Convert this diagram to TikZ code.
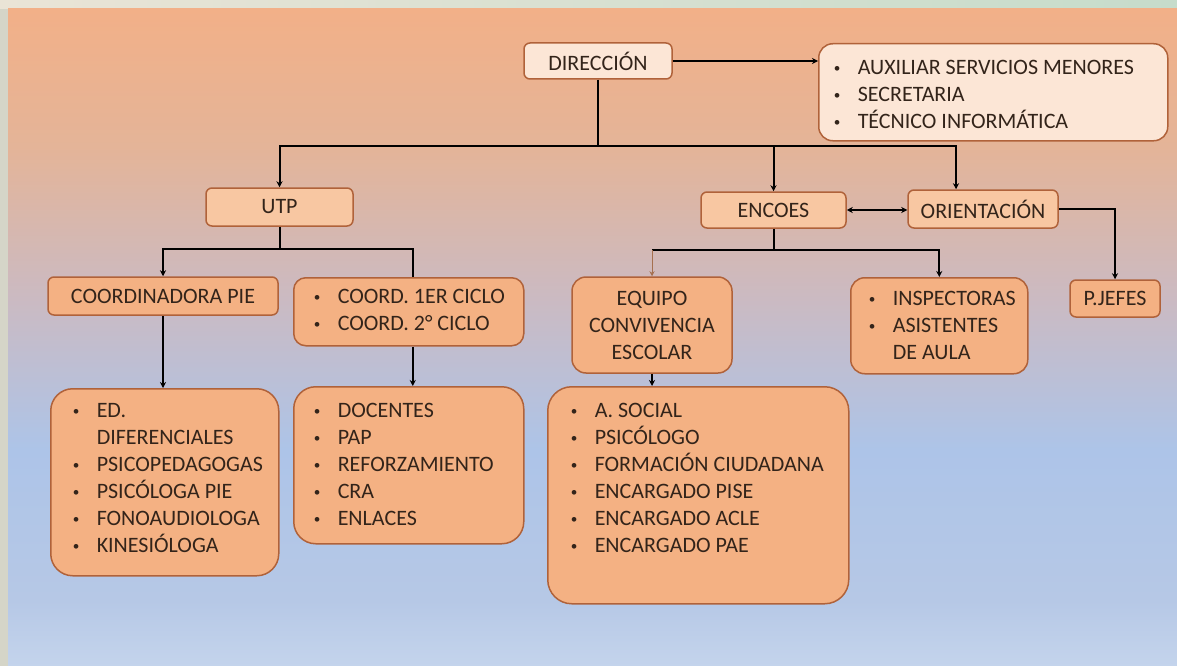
\documentclass[tikz,border=0pt]{standalone}
\usepackage{fontspec}
\setmainfont{Carlito}
\usetikzlibrary{arrows.meta}
\definecolor{frameside}{HTML}{D5D5C8}
\definecolor{frametopa}{HTML}{EAE4D6}
\definecolor{frametopb}{HTML}{C6DCCB}
\definecolor{paneltop}{HTML}{F2B088}
\definecolor{panelhigh}{HTML}{E4B498}
\definecolor{panelmid}{HTML}{CBBAC2}
\definecolor{panelblue}{HTML}{ADC4E8}
\definecolor{panellow}{HTML}{B6C8E6}
\definecolor{panelbot}{HTML}{C4D4EC}
\definecolor{boxline}{HTML}{B0623A}
\definecolor{boxpale}{HTML}{FCE6D6}
\definecolor{boxlight}{HTML}{F8C7A2}
\definecolor{boxfill}{HTML}{F4B183}
\definecolor{orgink}{HTML}{33241A}
\definecolor{linkbrown}{HTML}{A5704F}
% small list bullet
\newcommand{\dotmark}{\raisebox{2pt}{\scalebox{0.6}{\textbullet}}}
% bullet list set in a box of fixed size: width, height, left indent, rows
\newcommand{\orglist}[4]{\parbox[c][#2][t]{#1}{\hspace*{#3}%
  \begin{tabular}[t]{@{}p{24pt}@{}l@{}}#4\end{tabular}}}
\pgfdeclareverticalshading{panelfade}{100bp}{color(0bp)=(panelbot);
  color(25bp)=(panelbot); color(30bp)=(panellow); color(41.5bp)=(panelblue);
  color(53bp)=(panelmid); color(64.5bp)=(panelhigh); color(75bp)=(paneltop);
  color(100bp)=(paneltop)}

\begin{document}
\begin{tikzpicture}[
  x=1pt,
  y=-1pt,
  every node/.style={font=\fontsize{22}{27}\selectfont, text=orgink},
  topbox/.style={draw=boxline, line width=1.5pt, fill=boxpale,
                 rounded corners=6pt, inner sep=0pt},
  unitbox/.style={draw=boxline, line width=1.5pt, fill=boxlight,
                  rounded corners=6pt, inner sep=0pt},
  teambox/.style={draw=boxline, line width=1.5pt, fill=boxfill,
                  rounded corners=6pt, inner sep=0pt},
  listbox/.style={draw=boxline, line width=1.5pt, fill=boxfill,
                  rounded corners=18pt, anchor=north west, inner xsep=0pt},
  link/.style={black, line width=2pt},
  branch/.style={link, -{Stealth[length=6pt, width=6pt]}},
  twoway/.style={link, {Stealth[length=6pt, width=6pt]}-{Stealth[length=6pt, width=6pt]}},
  faint/.style={linkbrown, line width=1pt, -{Stealth[length=5pt, width=5pt]}}
]
  % ---- frame and background ----
  \useasboundingbox (0,0) rectangle (1177,666);
  \fill[frameside] (0,0) rectangle (1177,666);
  \shade[left color=frametopa, right color=frametopb] (0,0) rectangle (1177,9);
  \shade[shading=panelfade] (8,9) rectangle (1177,666);

  % ---- top level ----
  \node[topbox, minimum width=148pt, minimum height=36pt] (dir) at (598,61)
    {DIRECCIÓN};
  \node[listbox, fill=boxpale, rounded corners=14pt, inner ysep=11.5pt] (staff)
    at (818,43) {\orglist{349pt}{74pt}{15pt}{%
      \dotmark & AUXILIAR SERVICIOS MENORES\\
      \dotmark & SECRETARIA\\
      \dotmark & TÉCNICO INFORMÁTICA}};

  % ---- second level ----
  \node[unitbox, minimum width=147pt, minimum height=38pt] (utp) at (279.5,207)
    {UTP};
  \node[unitbox, minimum width=145pt, minimum height=36pt] (encoes) at (773.5,210)
    {ENCOES};
  \node[unitbox, minimum width=150pt, minimum height=38pt] (orient) at (983,209)
    {ORIENTACIÓN};

  % ---- third level ----
  \node[teambox, minimum width=230pt, minimum height=38pt] (pie) at (163,296)
    {COORDINADORA PIE};
  \node[listbox, rounded corners=12pt, inner ysep=7.2pt] (cycles) at (293,277)
    {\orglist{230pt}{53.6pt}{20pt}{%
      \dotmark & COORD. 1ER CICLO\\
      \dotmark & COORD. 2° CICLO}};
  \node[teambox, rounded corners=14pt, minimum width=160pt, minimum height=96pt,
        align=center] (team) at (652,325) {EQUIPO\\CONVIVENCIA\\ESCOLAR};
  \node[listbox, rounded corners=14pt, inner ysep=9.2pt] (support) at (850,277)
    {\orglist{177pt}{77.6pt}{18pt}{%
      \dotmark & INSPECTORAS\\
      \dotmark & ASISTENTES\\
               & DE AULA}};
  \node[teambox, minimum width=90pt, minimum height=37pt] (pjefes) at (1115,298.5)
    {P.JEFES};

  % ---- fourth level ----
  \node[listbox, rounded corners=22pt, inner ysep=10.2pt] (special) at (50,388)
    {\orglist{228pt}{166.6pt}{22pt}{%
      \dotmark & ED.\\
               & DIFERENCIALES\\
      \dotmark & PSICOPEDAGOGAS\\
      \dotmark & PSICÓLOGA PIE\\
      \dotmark & FONOAUDIOLOGA\\
      \dotmark & KINESIÓLOGA}};
  \node[listbox, rounded corners=22pt, inner ysep=12.2pt] (teaching) at (293,386)
    {\orglist{230pt}{132.6pt}{20pt}{%
      \dotmark & DOCENTES\\
      \dotmark & PAP\\
      \dotmark & REFORZAMIENTO\\
      \dotmark & CRA\\
      \dotmark & ENLACES}};
  \node[listbox, rounded corners=24pt, inner ysep=12.2pt] (welfare) at (547,386)
    {\orglist{301pt}{192.6pt}{23pt}{%
      \dotmark & A. SOCIAL\\
      \dotmark & PSICÓLOGO\\
      \dotmark & FORMACIÓN CIUDADANA\\
      \dotmark & ENCARGADO PISE\\
      \dotmark & ENCARGADO ACLE\\
      \dotmark & ENCARGADO PAE}};

  % ---- connectors ----
  \coordinate (dirfork) at (598,146);
  \coordinate (utpfork) at (279.5,249);
  \coordinate (encfork) at (773.5,250);

  \draw[branch] (dir.east) -- (dir.east -| staff.west);
  \draw[link] (dir.south) -- (dirfork);
  \draw[branch] (dirfork) -| (utp.north);
  \draw[branch] (dirfork) -| ([xshift=-27pt]orient.north);
  \draw[branch] (dirfork -| encoes.north) -- (encoes.north);
  \draw[twoway] (encoes.east) -- (encoes.east -| orient.west);
  \draw[branch] (orient.east) -| (pjefes.north);

  \draw[link] (utp.south) -- (utpfork);
  \draw[branch] (utpfork) -| (pie.north);
  \draw[link] (utpfork) -| ([xshift=4pt]cycles.north);
  \draw[branch] (pie.south) -- (pie.south |- special.north);
  \draw[branch] ([xshift=4pt]cycles.south) -- ([xshift=4pt]cycles.south |- teaching.north);

  \draw[link] (encoes.south) -- (encfork);
  \draw[link] (encfork) -- (encfork -| team.north);
  \draw[faint] (encfork -| team.north) -- (team.north);
  \draw[branch] (encfork) -| (support.north);
  \draw[branch] (team.south) -- (team.south |- welfare.north);
\end{tikzpicture}
\end{document}
